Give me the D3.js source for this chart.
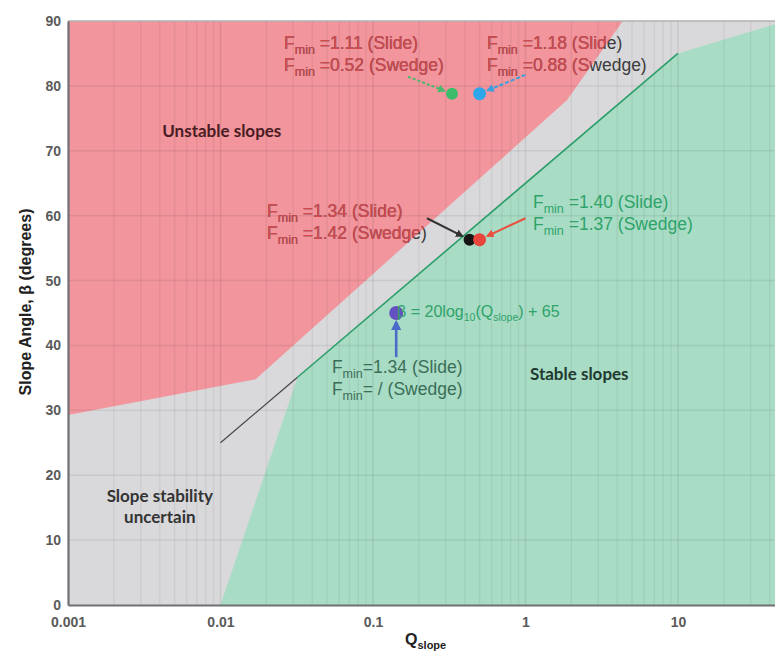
<!DOCTYPE html>
<html>
<head>
<meta charset="utf-8">
<script src="https://cdn.jsdelivr.net/npm/d3@7"></script>
<style>
  body { margin: 0; background: #fff; }
  svg { display: block; font-family: "Liberation Sans", Arial, sans-serif; }
</style>
</head>
<body>
<script>
// axis values
var xTicks = [0.001, 0.01, 0.1, 1, 10];
var xTickLabels = ["0.001", "0.01", "0.1", "1", "10"];
var yTicks = [0, 10, 20, 30, 40, 50, 60, 70, 80, 90];

// zones [Q, beta]
var unstableZone = [[0.001, 90], [0.001, 29.3], [0.017, 34.8], [1.87, 77.8], [4.35, 90]];
var stableZone = [[0.01, 0], [0.032, 35.1], [10, 85], [43.3, 89.5], [43.3, 0]];
var stableBoundary = [[0.032, 35.1], [10, 85]];
var extensionLine = [[0.01, 25], [0.032, 35.1]];

// case study points and the place each arrow starts from
var caseIds = ["green", "blue", "black", "red", "purple"];
var caseQ = [0.33, 0.50, 0.43, 0.50, 0.142];
var caseBeta = [78.8, 78.8, 56.3, 56.3, 45];
var arrowFromQ = [0.17, 1.0, 0.226, 1.0, 0.142];
var arrowFromBeta = [81.4, 81.7, 59.6, 59.6, 38.2];

// factor of safety labels
var blockQ = [0.0261, 0.559, 0.0202, 1.12, 0.0538];
var blockBeta = [85.7, 85.7, 59.8, 61.2, 35.8];
var blockLines = [
  [" =1.11 (Slide)", " =0.52 (Swedge)"],
  [" =1.18 (Slide)", " =0.88 (Swedge)"],
  [" =1.34 (Slide)", " =1.42 (Swedge)"],
  [" =1.40 (Slide)", " =1.37 (Swedge)"],
  ["=1.34 (Slide)", "= / (Swedge)"]
];

var width = 775, height = 659;
var margin = {top: 21, right: 0, bottom: 54, left: 68};

var colors = {
  grey: "#d9d9db", red: "#f2959c", green: "#a9dcc5",
  line: "#2c9e6a", redText: "#d24a50", darkText: "#3c3c3c", greenText: "#2ea36a"
};
var dotColor = {green: "#3dbd6c", blue: "#2ea6ea", black: "#151515", red: "#e8463c", purple: "#6552c2"};
var arrowColor = {green: "#4cb86c", blue: "#3a9fe0", black: "#333", red: "#ea4f3e", purple: "#4a6cc8"};
var arrowDash = {green: "3,2", blue: "4,2", black: null, red: null, purple: null};
var dotR = {green: 6, blue: 6.5, black: 6, red: 6.5, purple: 7};

var x = d3.scaleLog().domain([0.001, 43.3]).range([margin.left, width - margin.right]);
var y = d3.scaleLinear().domain([0, 90]).range([height - margin.bottom, margin.top]);

var svg = d3.select("body").append("svg").attr("width", width).attr("height", height);
var defs = svg.append("defs");

var area = d3.line().x(function(d) { return x(d[0]); }).y(function(d) { return y(d[1]); });

// background = uncertain zone
svg.append("rect")
  .attr("x", margin.left).attr("y", margin.top)
  .attr("width", width - margin.left - margin.right)
  .attr("height", height - margin.top - margin.bottom)
  .attr("fill", colors.grey);

svg.append("path").attr("d", area(unstableZone) + "Z").attr("fill", colors.red);
svg.append("path").attr("d", area(stableZone) + "Z").attr("fill", colors.green);

defs.append("clipPath").attr("id", "unstableClip")
  .append("path").attr("d", area(unstableZone) + "Z");

// grid
var minor = [];
[0.001, 0.01, 0.1, 1, 10].forEach(function(dec) {
  for (var m = 2; m <= 9; m++) if (dec * m < 43.3) minor.push(dec * m);
});
var grid = svg.append("g");
grid.selectAll(".minor").data(minor).enter().append("line")
  .attr("x1", function(d) { return x(d); }).attr("x2", function(d) { return x(d); })
  .attr("y1", y(0)).attr("y2", y(90))
  .attr("stroke", "rgba(0,0,0,0.05)").attr("stroke-width", 1.5);
grid.selectAll(".major").data(xTicks.slice(1)).enter().append("line")
  .attr("x1", function(d) { return x(d); }).attr("x2", function(d) { return x(d); })
  .attr("y1", y(0)).attr("y2", y(90))
  .attr("stroke", "rgba(0,0,0,0.08)").attr("stroke-width", 1.5);
grid.selectAll(".hor").data(yTicks.slice(1, -1)).enter().append("line")
  .attr("x1", x(0.001)).attr("x2", width)
  .attr("y1", function(d) { return y(d); }).attr("y2", function(d) { return y(d); })
  .attr("stroke", "rgba(0,0,0,0.07)").attr("stroke-width", 1.5);

// lines
svg.append("path").attr("d", area(extensionLine)).attr("fill", "none")
  .attr("stroke", "#444").attr("stroke-width", 1.2);
svg.append("path").attr("d", area(stableBoundary)).attr("fill", "none")
  .attr("stroke", colors.line).attr("stroke-width", 1.6);

// frame
svg.append("line").attr("x1", x(0.001)).attr("x2", width).attr("y1", y(90)).attr("y2", y(90))
  .attr("stroke", "#b0b0b4").attr("stroke-width", 1.5);

// axes
var xAxis = svg.append("g").attr("transform", "translate(0," + y(0) + ")")
  .call(d3.axisBottom(x).tickValues(xTicks).tickSize(0).tickPadding(12)
    .tickFormat(function(d, i) { return xTickLabels[i]; }));
var yAxis = svg.append("g").attr("transform", "translate(" + x(0.001) + ",0)")
  .call(d3.axisLeft(y).tickValues(yTicks).tickSize(0).tickPadding(7));
[xAxis, yAxis].forEach(function(a) {
  a.select(".domain").attr("stroke", "#707074").attr("stroke-width", 2.2);
  a.selectAll("text").attr("font-size", 14).attr("font-weight", "bold")
    .attr("fill", "#5a5a5a").attr("font-family", "Liberation Sans, Arial, sans-serif");
});

// arrows
caseIds.forEach(function(id) {
  defs.append("marker").attr("id", "head-" + id)
    .attr("viewBox", "0 0 10 10").attr("refX", 8).attr("refY", 5)
    .attr("markerWidth", 4).attr("markerHeight", 4).attr("orient", "auto")
    .append("path").attr("d", "M0,0L10,5L0,10Z").attr("fill", arrowColor[id]);
});
caseIds.forEach(function(id, i) {
  var x0 = x(arrowFromQ[i]), y0 = y(arrowFromBeta[i]);
  var x1 = x(caseQ[i]), y1 = y(caseBeta[i]);
  var len = Math.hypot(x1 - x0, y1 - y0), cut = dotR[id] + 2;
  svg.append("line")
    .attr("x1", x0).attr("y1", y0)
    .attr("x2", x1 - (x1 - x0) * cut / len).attr("y2", y1 - (y1 - y0) * cut / len)
    .attr("stroke", arrowColor[id]).attr("stroke-width", id === "purple" ? 2.6 : 2)
    .attr("stroke-dasharray", arrowDash[id])
    .attr("marker-end", "url(#head-" + id + ")");
});

// dots
svg.selectAll(".case").data(caseIds).enter().append("circle")
  .attr("cx", function(d, i) { return x(caseQ[i]); })
  .attr("cy", function(d, i) { return y(caseBeta[i]); })
  .attr("r", function(d) { return dotR[d]; })
  .attr("fill", function(d) { return dotColor[d]; });

// F_min text blocks
function fminBlock(g, i, fill) {
  var t = g.append("text").attr("font-size", 17.5).attr("fill", fill);
  blockLines[i].forEach(function(s, k) {
    var tx = x(blockQ[i]), ty = y(blockBeta[i]) + k * 22.5;
    t.append("tspan").attr("x", tx).attr("y", ty).text("F");
    t.append("tspan").attr("font-size", 12.5).attr("dy", 5).text("min");
    t.append("tspan").attr("dy", -5).text(s);
  });
}
[0, 1, 2].forEach(function(i) {
  fminBlock(svg.append("g"), i, colors.darkText);
  fminBlock(svg.append("g").attr("clip-path", "url(#unstableClip)"), i, colors.redText);
});
fminBlock(svg.append("g"), 3, colors.greenText);
fminBlock(svg.append("g"), 4, "#3b6e58");

// equation
var eq = svg.append("text").attr("x", x(0.144)).attr("y", y(44.4))
  .attr("font-size", 16).attr("fill", colors.greenText);
eq.append("tspan").text("β = 20log");
eq.append("tspan").attr("font-size", 10.5).attr("dy", 4).text("10");
eq.append("tspan").attr("dy", -4).text("(Q");
eq.append("tspan").attr("font-size", 10.5).attr("dy", 4).text("slope");
eq.append("tspan").attr("dy", -4).text(") + 65");

// zone labels
var zoneFont = "Lato, 'Open Sans', sans-serif";
svg.append("text").attr("x", x(0.0102)).attr("y", y(72.1)).attr("text-anchor", "middle")
  .attr("font-family", zoneFont).attr("font-weight", "bold").attr("font-size", 17)
  .attr("fill", "#4a1c24").text("Unstable slopes");
svg.append("text").attr("x", x(1.07)).attr("y", y(34.7))
  .attr("font-family", zoneFont).attr("font-weight", "bold").attr("font-size", 17)
  .attr("fill", "#1e3a30").text("Stable slopes");
var unc = svg.append("text").attr("text-anchor", "middle")
  .attr("font-family", zoneFont).attr("font-weight", "bold").attr("font-size", 17)
  .attr("fill", "#333");
unc.append("tspan").attr("x", x(0.004)).attr("y", y(15.9)).text("Slope stability");
unc.append("tspan").attr("x", x(0.004)).attr("y", y(12.65)).text("uncertain");

// axis titles
svg.append("text").attr("transform", "translate(31,302) rotate(-90)")
  .attr("text-anchor", "middle").attr("font-weight", "bold").attr("font-size", 16)
  .attr("fill", "#222").text("Slope Angle, β (degrees)");
var xt = svg.append("text").attr("x", 405).attr("y", 645)
  .attr("font-weight", "bold").attr("font-size", 16).attr("fill", "#222");
xt.append("tspan").text("Q");
xt.append("tspan").attr("font-size", 11).attr("dy", 4).text("slope");
</script>
</body>
</html>
